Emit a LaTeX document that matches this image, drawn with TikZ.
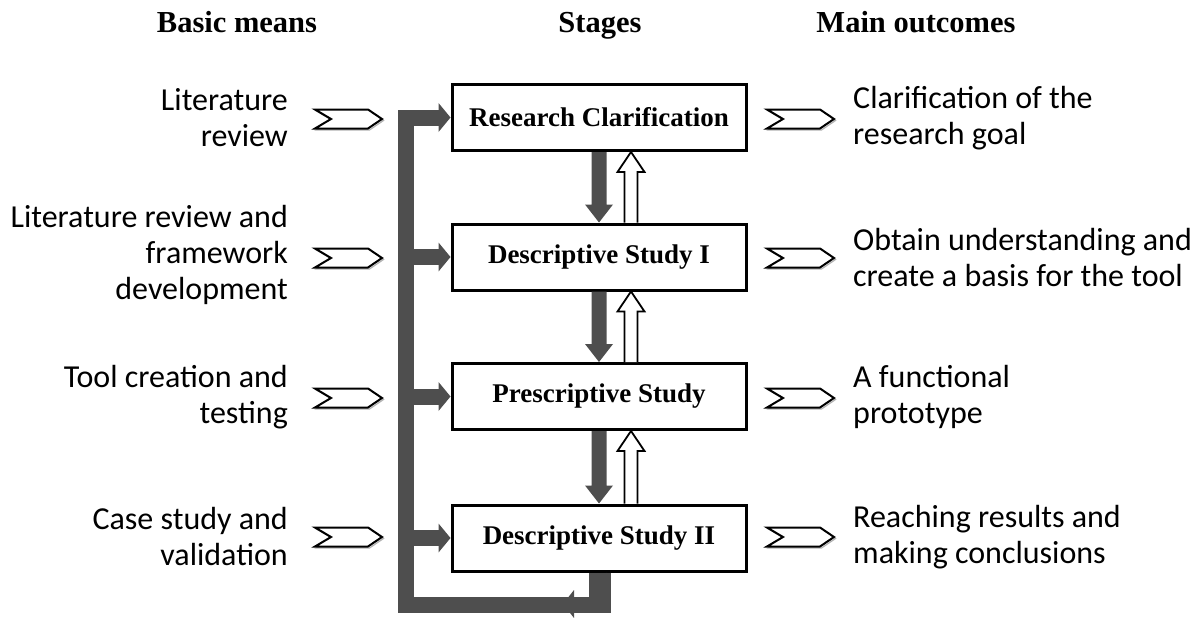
\documentclass[tikz,border=0pt]{standalone}
\usepackage{fontspec}
\setmainfont{Liberation Serif}
\newfontfamily\calib{Carlito}
\usetikzlibrary{calc}
\definecolor{barc}{RGB}{78,78,78}
\tikzset{
  stagebox/.style={draw=black, line width=3pt, fill=white, minimum width=294pt, minimum height=66pt, inner sep=0pt,
    font=\fontsize{27}{30}\selectfont\bfseries},
  header/.style={anchor=base, font=\fontsize{30.5}{34}\selectfont\bfseries},
  lefttxt/.style={anchor=east, align=right, inner sep=0pt, font=\calib\fontsize{32}{36}\selectfont},
  righttxt/.style={anchor=west, align=left, inner sep=0pt, font=\calib\fontsize{32}{36}\selectfont},
  bar/.style={draw=barc, line width=16pt, line join=miter, line cap=butt},
  chevshape/.pic={
    \draw[gray!60, line width=1.2pt, line join=miter] (1.5,-8) -- (54.5,-8) -- (68.5,1.5) -- (54.5,11) -- (1.5,11) -- (17.5,1.5) -- cycle;
    \draw[black, line width=2pt, line join=miter, fill=white] (0,-9.5) -- (53,-9.5) -- (67,0) -- (53,9.5) -- (0,9.5) -- (16,0) -- cycle;
  }
}
\newcommand\sidehead[1]{\fill[barc] (#1) -- ++(-12,-14.5) -- ++(0,29) -- cycle;}
\newcommand\pairarrows[2]{%
  % down filled arrow
  \fill[barc] ($(#1.south)+(-7.5,0)$) -- ($(#2.north)+(-7.5,-18)$) -- ($(#2.north)+(-14,-18)$) -- (#2.north)
     -- ($(#2.north)+(14,-18)$) -- ($(#2.north)+(7.5,-18)$) -- ($(#1.south)+(7.5,0)$) -- cycle;
  % up hollow arrow
  \draw[black, line width=1.8pt, fill=white, line join=miter]
     ($(#2.north)+(25.5,0)$) -- ($(#1.south)+(25.5,20)$) -- ($(#1.south)+(18.5,20)$) -- ($(#1.south)+(32,0)$)
     -- ($(#1.south)+(45.5,20)$) -- ($(#1.south)+(38.5,20)$) -- ($(#2.north)+(38.5,0)$);
}
\begin{document}
\begin{tikzpicture}[x=1pt, y=-1pt]
\useasboundingbox (0,0) rectangle (1204,618);

% headers
\node[header] (h1) at (237,33) {Basic means};
\node[header] (h2) at (600,33) {Stages};
\node[header] (h3) at (916,33) {Main outcomes};

% stage boxes
\node[stagebox] (rc)  at (599,117.5) {Research Clarification};
\node[stagebox] (ds1) at (599,257)   {Descriptive Study I};
\node[stagebox] (ps)  at (599,396.5) {Prescriptive Study};
\node[stagebox] (ds2) at (599,538)   {Descriptive Study II};

% arrows between stages
\pairarrows{rc}{ds1}
\pairarrows{ds1}{ps}
\pairarrows{ps}{ds2}

% feedback loop
\coordinate (loopBR) at (600,605);
\coordinate (loopBL) at (406,605);
\fill[barc] ($(ds2.south)+(-10,0)$) rectangle ($(ds2.south |- loopBR)+(12,8)$);
\draw[bar] (ds2.south) -- (ds2.south |- loopBR) -- (loopBL) -- (loopBL |- rc.west) -- ($(rc.west)+(-12,0)$);
\fill[barc] ($(loopBR)+(-37,-1)$) -- ++(11,-14) -- ++(0,28) -- cycle;
\sidehead{rc.west}
\foreach \b in {ds1,ps,ds2}{
  \draw[bar] (loopBL |- \b.west) -- ($(\b.west)+(-12,0)$);
  \sidehead{\b.west}
}

% chevrons
\foreach \y in {119,258,398,537}{
  \pic at (315,\y) {chevshape};
  \pic at (767,\y) {chevshape};
}

% left texts
\node[lefttxt] (l1) at (288,118) {Literature\\review};
\node[lefttxt] (l2) at (288,255) {Literature review and\\framework\\development};
\node[lefttxt] (l3) at (288,397) {Tool creation and\\testing};
\node[lefttxt] (l4) at (288,537) {Case study and\\validation};

% right texts
\node[righttxt] (r1) at (853,118) {Clarification of the\\research goal};
\node[righttxt] (r2) at (853,258) {Obtain understanding and\\create a basis for the tool};
\node[righttxt] (r3) at (853,397) {A functional\\prototype};
\node[righttxt] (r4) at (853,537) {Reaching results and\\making conclusions};
\end{tikzpicture}
\end{document}
